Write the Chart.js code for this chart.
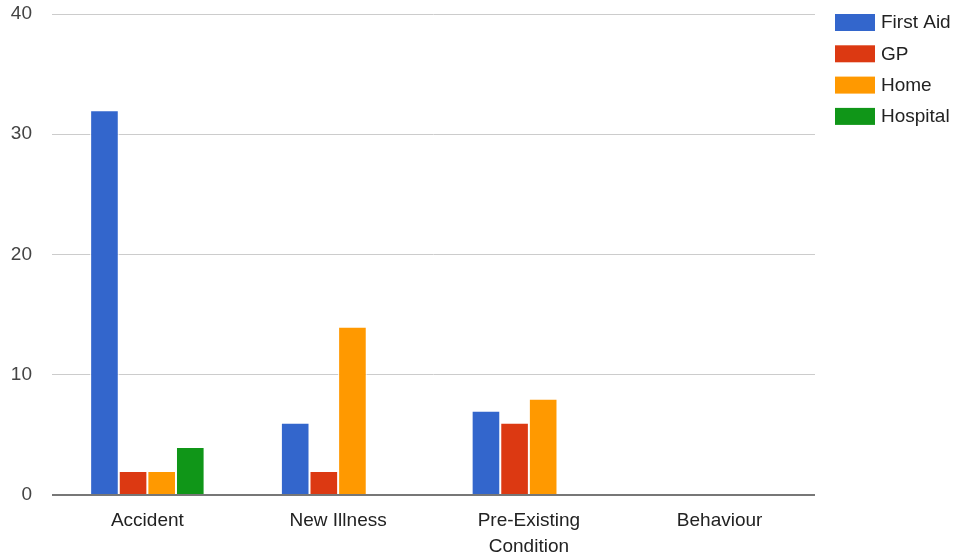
<!DOCTYPE html>
<html>
<head>
<meta charset="utf-8">
<script src="https://cdn.jsdelivr.net/npm/chart.js@4"></script>
<style>
  html, body { margin: 0; padding: 0; background: #fff; }
  #wrap { width: 954px; height: 553px; }
</style>
</head>
<body>
<div id="wrap"><canvas id="chart" width="954" height="553"></canvas></div>
<script>
const categories = ["Accident", "New Illness", ["Pre-Existing", "Condition"], "Behaviour"];
const firstAid = [32, 6, 7, 0];
const gp = [2, 2, 6, 0];
const home = [2, 14, 8, 0];
const hospital = [4, 0, 0, 0];
const yTicks = [0, 10, 20, 30, 40];

const font = "'Liberation Sans', Arial, sans-serif";
Chart.defaults.font.family = font;
Chart.defaults.font.size = 19;

const bar = (label, data, color) => ({
  label, data, backgroundColor: color,
  borderColor: "#ffffff", borderWidth: 1,
  categoryPercentage: 0.6, barPercentage: 1,
});

// legend drawn on the right, Google-chart style
const sideLegend = {
  id: "sideLegend",
  afterDraw(chart) {
    const ctx = chart.ctx;
    const x = chart.chartArea.right + 20;
    let y = 14;
    ctx.save();
    ctx.font = "19px " + font;
    ctx.textBaseline = "middle";
    ctx.textAlign = "left";
    chart.data.datasets.forEach((ds) => {
      ctx.fillStyle = ds.backgroundColor;
      ctx.fillRect(x, y, 40, 17);
      ctx.fillStyle = "#222";
      ctx.fillText(ds.label, x + 46, y + 9);
      y += 31.3;
    });
    ctx.restore();
  },
};

new Chart(document.getElementById("chart"), {
  type: "bar",
  data: {
    labels: categories,
    datasets: [
      bar("First Aid", firstAid, "#3366cc"),
      bar("GP", gp, "#dc3912"),
      bar("Home", home, "#ff9900"),
      bar("Hospital", hospital, "#109618"),
    ],
  },
  plugins: [sideLegend],
  options: {
    responsive: false,
    animation: false,
    layout: { padding: { top: 14, right: 139, bottom: 0, left: 0 } },
    plugins: {
      legend: { display: false },
      tooltip: { enabled: false },
    },
    scales: {
      y: {
        min: 0, max: 40,
        afterBuildTicks: (s) => { s.ticks = yTicks.map((v) => ({ value: v })); },
        afterFit: (s) => { s.width = 52; },
        ticks: { color: "#444", padding: 0, font: { size: 19 } },
        grid: {
          color: (c) => (c.tick.value === 0 ? "#777" : "#ccc"),
          lineWidth: (c) => (c.tick.value === 0 ? 2 : 1),
          drawTicks: true, tickLength: 20, tickColor: "rgba(0,0,0,0)",
        },
        border: { display: false },
      },
      x: {
        afterFit: (s) => { s.height = 58; },
        ticks: { color: "#222", padding: 4, font: { size: 19, lineHeight: 1.4 } },
        grid: { display: false },
        border: { display: false },
      },
    },
  },
});
</script>
</body>
</html>
